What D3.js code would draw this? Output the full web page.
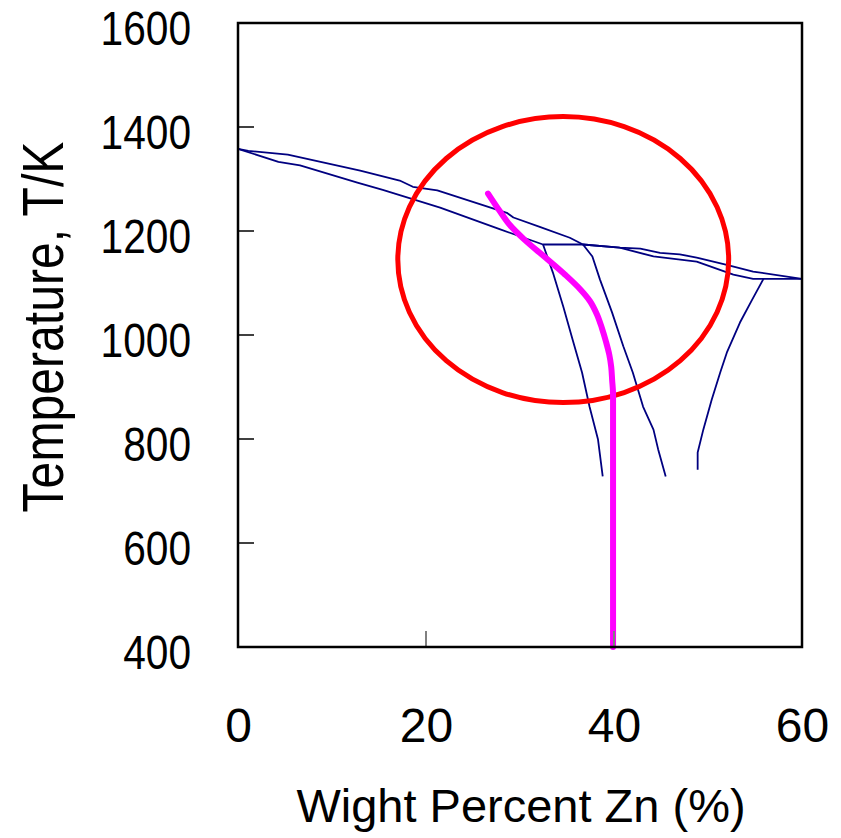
<!DOCTYPE html>
<html>
<head>
<meta charset="utf-8">
<script src="https://cdn.jsdelivr.net/npm/d3@7"></script>
<style>
  html, body { margin: 0; padding: 0; background: #fff; }
  svg { display: block; font-family: "Liberation Sans", Arial, sans-serif; }
</style>
</head>
<body>
<svg id="chart" width="841" height="838"></svg>
<script>
// ---- data (wt% Zn, temperature K) ----
const xTickValues = [0, 20, 40, 60];
const xTickMarks = [20, 40];
const yTickValues = [400, 600, 800, 1000, 1200, 1400, 1600];
const yTickMarks = [600, 800, 1000, 1200, 1400];

const liquidus = [[0,1358],[1.1,1354],[5.3,1347],[13.0,1316],[17.2,1297],[18.6,1285],[21.2,1278],[28.6,1235],[29.3,1226],[32.1,1208],[35.3,1187],[36.7,1174],[40.6,1168],[42.8,1166],[44.9,1158],[47.0,1155],[48.8,1149],[52.0,1135],[54.8,1122],[60,1108]];
const solidus = [[0,1358],[4.3,1333],[6.6,1326],[12.7,1293],[15.4,1279],[21.5,1245],[27.9,1203],[32.45,1174],[36.7,1174],[40.6,1168],[44.2,1151],[48.8,1141],[52.7,1116],[54.8,1108],[60,1108]];
const alphaSolvus = [[32.45,1174],[33.5,1120],[34.6,1055],[35.6,991],[36.6,928],[37.4,862],[38.3,799],[38.8,728]];
const betaSolvusLeft = [[36.7,1174],[37.7,1151],[38.5,1107],[39.8,1043],[41.0,978],[42.0,928],[43.1,862],[44.2,818],[44.7,780],[45.5,728]];
const betaSolvusRight = [[55.9,1108],[54.7,1068],[53.4,1024],[52.0,966],[51.3,928],[50.4,876],[49.5,818],[48.9,774],[48.9,741]];
const pathCurve = [[26.6,1272],[27.9,1237],[28.9,1212],[30.5,1183],[32.7,1149],[34.8,1116],[36.4,1088],[37.45,1065],[38.2,1039],[38.7,1014],[39.15,987],[39.5,962],[39.7,939],[39.8,914],[39.9,885],[39.9,400]];
const ellipseCenter = [34.6, 1145];
const ellipseRadii = [17.6, 275];

// ---- layout ----
const svg = d3.select("#chart");
const x = d3.scaleLinear().domain([0, 60]).range([238, 802]);
const y = d3.scaleLinear().domain([400, 1600]).range([647, 23]);
const line = d3.line().x(d => x(d[0])).y(d => y(d[1]));

// phase boundaries
const blue = "#000080";
[liquidus, solidus, alphaSolvus, betaSolvusLeft, betaSolvusRight].forEach(s => {
  svg.append("path").datum(s).attr("d", line)
    .attr("fill", "none").attr("stroke", blue).attr("stroke-width", 1.8)
    .attr("stroke-linejoin", "round");
});

// red ellipse
svg.append("ellipse")
  .attr("cx", x(ellipseCenter[0])).attr("cy", y(ellipseCenter[1]))
  .attr("rx", x(ellipseRadii[0]) - x(0))
  .attr("ry", y(ellipseCenter[1] - ellipseRadii[1]) - y(ellipseCenter[1]))
  .attr("fill", "none").attr("stroke", "#ff0000").attr("stroke-width", 5);

// magenta path
svg.append("path").datum(pathCurve)
  .attr("d", d3.line().x(d => x(d[0])).y(d => y(d[1])).curve(d3.curveMonotoneY))
  .attr("fill", "none").attr("stroke", "#ff00ff").attr("stroke-width", 6)
  .attr("stroke-linecap", "round").attr("stroke-linejoin", "round");

// inner ticks
svg.append("g").selectAll("line").data(yTickMarks).join("line")
  .attr("x1", x(0)).attr("x2", x(0) + 16)
  .attr("y1", d => y(d)).attr("y2", d => y(d))
  .attr("stroke", "#000").attr("stroke-width", 1.5);
svg.append("g").selectAll("line").data(xTickMarks).join("line")
  .attr("x1", d => x(d)).attr("x2", d => x(d))
  .attr("y1", y(400)).attr("y2", y(400) - 16)
  .attr("stroke", "#808080").attr("stroke-width", 2);

// frame
svg.append("rect").attr("x", x(0)).attr("y", y(1600))
  .attr("width", x(60) - x(0)).attr("height", y(400) - y(1600))
  .attr("fill", "none").attr("stroke", "#000").attr("stroke-width", 2.5);

// y axis labels
const sy = 0.83;
const gy = svg.append("g").attr("transform", `translate(${x(0)},0)`)
  .call(d3.axisLeft(y).tickValues(yTickValues).tickFormat(d3.format("d")).tickSize(0).tickPadding(47));
gy.select(".domain").remove();
gy.selectAll("text")
  .attr("font-size", 49).attr("font-family", "Liberation Sans, Arial, sans-serif")
  .attr("fill", "#000")
  .attr("x", -47 / sy).attr("dy", "0.44em")
  .attr("transform", `scale(${sy},1)`);

// x axis labels
const gx = svg.append("g").attr("transform", `translate(0,${y(400)})`)
  .call(d3.axisBottom(x).tickValues(xTickValues).tickFormat(d3.format("d")).tickSize(0).tickPadding(61));
gx.select(".domain").remove();
gx.selectAll("text")
  .attr("font-size", 48).attr("font-family", "Liberation Sans, Arial, sans-serif")
  .attr("fill", "#000");

// titles
svg.append("text")
  .attr("transform", `translate(63,327) rotate(-90) scale(0.83,1)`)
  .attr("text-anchor", "middle").attr("font-size", 58).attr("fill", "#000")
  .text("Temperature, T/K");
svg.append("text")
  .attr("x", 521).attr("y", 822)
  .attr("text-anchor", "middle").attr("font-size", 47).attr("fill", "#000")
  .text("Wight Percent Zn (%)");
</script>
</body>
</html>
